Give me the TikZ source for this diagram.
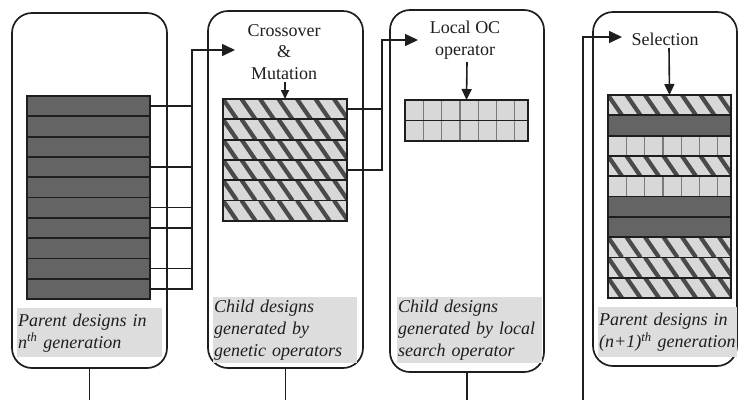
\documentclass[tikz,border=0pt]{standalone}
\usepackage{fontspec}
\setmainfont{Liberation Serif}
\usetikzlibrary{arrows.meta,calc}
\definecolor{darkfill}{HTML}{646464}
\definecolor{hatchbg}{HTML}{D8D8D8}
\definecolor{stripe}{HTML}{4A4A4A}
\definecolor{labelbg}{HTML}{DDDDDD}
\definecolor{cellline}{HTML}{7A7A7A}
\definecolor{ink}{HTML}{1E1E1E}
\begin{document}
\begin{tikzpicture}[x=1pt,y=-1pt,
  panel/.style={draw=ink, line width=1.7pt, rounded corners=20pt, inner sep=0pt, outer sep=0pt, anchor=north west},
  bar/.style={draw=ink, line width=1.8pt, anchor=north west, minimum width=123pt, minimum height=20.3pt, inner sep=0pt, outer sep=0pt},
  dark/.style={bar, fill=darkfill},
  hatch/.style={bar, fill=hatchbg, path picture={
      \foreach \k in {-2,...,9}{
        \draw[line width=4.2pt, draw=stripe]
          ($(path picture bounding box.north west)+(\k*18.5,0)$) --
          ($(path picture bounding box.south west)+(\k*18.5+14,0)$);}}},
  gridb/.style={bar, fill=hatchbg, path picture={
      \foreach \k in {1,...,7}{
        \draw[line width=1.3pt, draw=cellline]
          ($(path picture bounding box.north west)+(\k*18.3,0)$) --
          ($(path picture bounding box.south west)+(\k*18.3,0)$);}}},
  conn/.style={draw=ink, line width=1.6pt},
  bigarrow/.style={-{Triangle[length=13pt,width=12pt]}},
  smallarrow/.style={-{Triangle[length=9pt,width=8pt]}},
  midarrow/.style={-{Triangle[length=11pt,width=10pt]}},
  title/.style={align=center, inner sep=0pt, text=ink, font=\fontsize{18}{21.5}\selectfont},
  lab/.style={fill=labelbg, anchor=north west, inner xsep=1pt, inner ysep=0pt, align=left, text=ink,
      font=\fontsize{18}{22}\selectfont\itshape}
]
\useasboundingbox (0,0) rectangle (738,400);
\clip (0,0) rectangle (738,400);

% panels
\node[panel, minimum width=155pt, minimum height=355pt] (p1) at (12,13) {};
\node[panel, minimum width=155pt, minimum height=357pt] (p2) at (208,11) {};
\node[panel, minimum width=154pt, minimum height=362pt] (p3) at (390,10) {};
\node[panel, minimum width=144pt, minimum height=354pt] (p4) at (593,12) {};

% labels
\node[lab, text width=143pt, minimum height=49pt] (l1) at (17,308)
  {Parent designs in\\ \textit{n}\textsuperscript{th} generation};
\node[lab, text width=142pt, minimum height=66pt] (l2) at (213,297)
  {Child designs\\generated by\\genetic operators};
\node[lab, text width=143pt, minimum height=66pt] (l3) at (397,297)
  {Child designs\\generated by local\\search operator};
\node[lab, text width=137pt, minimum height=50pt] (l4) at (598,307)
  {Parent designs in\\(\textit{n}+1)\textsuperscript{th} generation};

% bars panel 1
\foreach \i in {1,...,10}
  \node[dark] (a\i) at (27,{96+(\i-1)*20.3}) {};
% bars panel 2
\foreach \i in {1,...,6}
  \node[hatch, minimum width=124pt] (b\i) at (223,{99+(\i-1)*20.3}) {};
% bars panel 3
\node[gridb, minimum height=20.5pt] (c1) at (405,100) {};
\node[gridb, minimum height=20.5pt] (c2) at (405,120.5) {};
% bars panel 4
\foreach \t [count=\i] in {hatch,dark,gridb,hatch,gridb,dark,dark,hatch,hatch,hatch}
  \node[\t] (d\i) at (608,{95+(\i-1)*20.3}) {};

% titles
\node[title] (cm) at (284,52) {Crossover\\\&\\Mutation};
\node[title] (loc) at (465,40) {Local OC\\operator};
\node[title] (sel) at (665,39) {Selection};

\coordinate (m1) at (285,82);
\coordinate (m2) at (467,62);
\coordinate (m3) at (669,48);
\draw[conn, smallarrow] (m1) -- (b1.north);
\draw[conn, midarrow] (m2) -- (c1.north);
\draw[conn, midarrow] (m3) -- (d1.north);

% connectors panel 1 -> panel 2
\coordinate (j1) at (192,50);
\coordinate (t1) at (235,50);
\foreach \i in {1,4,6,7,9}
  \draw[conn] (a\i.east) -- (a\i.east -| j1);
\draw[conn, bigarrow] (a10.east) -- (a10.east -| j1) |- (t1);

% connectors panel 2 -> panel 3
\coordinate (j2) at (382,40);
\coordinate (t2) at (418,40);
\draw[conn] (b1.east) -- (b1.east -| j2);
\draw[conn, bigarrow] (b4.east) -- (b4.east -| j2) |- (t2);

% long feedback line into panel 4
\coordinate (s4) at (583,400);
\coordinate (t4) at (622,37);
\draw[conn, bigarrow] (s4) |- (t4);

% bottom stubs
\draw[conn] (p1.south) -- (p1.south |- s4);
\draw[conn] (p2.south) -- (p2.south |- s4);
\draw[conn] (p3.south) -- (p3.south |- s4);
\end{tikzpicture}
\end{document}
